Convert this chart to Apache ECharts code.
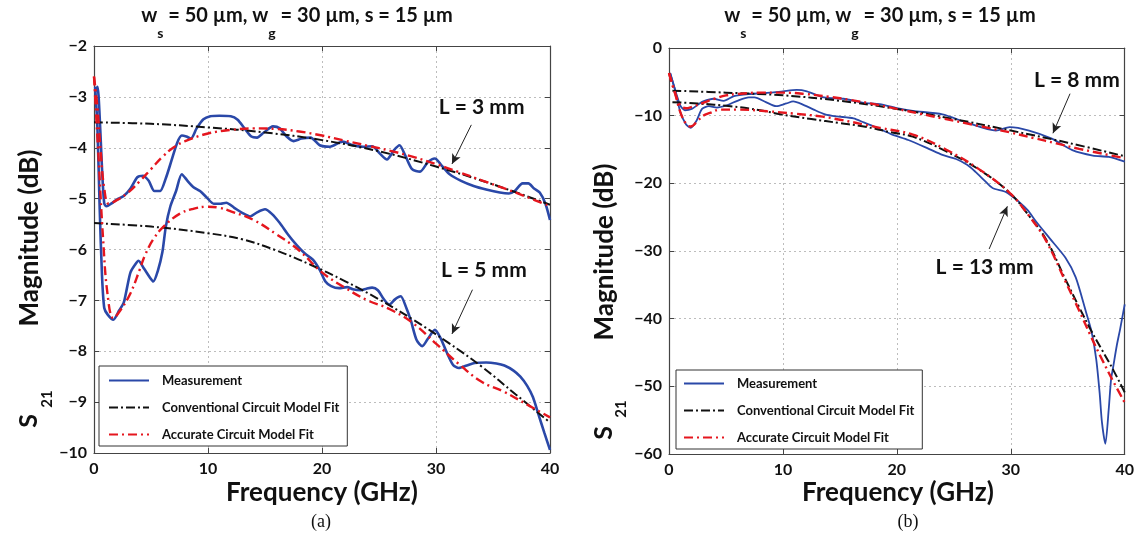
<!DOCTYPE html>
<html><head><meta charset="utf-8">
<script src="https://cdn.jsdelivr.net/npm/echarts@6/dist/echarts.min.js"></script>
<style>html,body{margin:0;padding:0;background:#fff}#c{width:1137px;height:537px}</style>
</head><body><div id="c"></div>
<script>
// ---------- axes / ticks ----------
const F_MIN = 0, F_MAX = 40, F_STEP = 10;
const A_MIN = -10, A_MAX = -2, A_STEP = 1;
const B_MIN = -60, B_MAX = 0, B_STEP = 10;
const legendNames = ['Measurement', 'Conventional Circuit Model Fit', 'Accurate Circuit Model Fit'];
const xName = 'Frequency (GHz)';
const yName = 'Magnitude (dB)';
const panelLabels = ['(a)', '(b)'];

// ---------- (a) L = 3 mm ----------
const a3Meas = [[0.1,-2.9],[0.3,-2.8],[0.5,-3.4],[0.7,-4.4],[0.9,-5.1],[1.1,-5.15],[1.5,-5.1],[2,-5.02],[2.6,-4.95],[3.2,-4.8],[3.8,-4.58],[4.3,-4.55],[4.8,-4.65],[5.3,-4.85],[5.8,-4.85],[6.3,-4.6],[6.8,-4.25],[7.3,-3.9],[7.7,-3.76],[8.1,-3.78],[8.5,-3.82],[9.0,-3.62],[9.6,-3.44],[10.2,-3.38],[11,-3.37],[12,-3.38],[12.6,-3.45],[13.2,-3.62],[13.8,-3.78],[14.3,-3.8],[14.9,-3.7],[15.7,-3.58],[16.3,-3.62],[16.9,-3.78],[17.5,-3.87],[18.2,-3.82],[19,-3.8],[19.8,-3.95],[20.7,-3.98],[21.8,-3.88],[22.7,-3.95],[23.6,-3.98],[24.4,-3.97],[25.1,-4.12],[25.7,-4.23],[26.3,-4.05],[26.8,-3.95],[27.3,-4.15],[27.9,-4.42],[28.6,-4.47],[29.3,-4.28],[29.9,-4.21],[30.5,-4.35],[31.2,-4.52],[32.2,-4.65],[33.3,-4.75],[34.4,-4.82],[35.6,-4.88],[36.4,-4.9],[36.9,-4.85],[37.6,-4.7],[38.1,-4.7],[38.6,-4.8],[39.1,-4.88],[39.6,-5.1],[40,-5.42]];
const a3Conv = [[0,-3.5],[5,-3.53],[10,-3.6],[15,-3.7],[20,-3.85],[25,-4.07],[30,-4.37],[35,-4.72],[40,-5.12]];
const a3Acc = [[0,-2.6],[0.3,-3.2],[0.6,-4.1],[0.9,-4.8],[1.3,-5.1],[2,-5.03],[3,-4.88],[4,-4.66],[5,-4.42],[6,-4.18],[7,-3.99],[8,-3.87],[10,-3.72],[12,-3.65],[14,-3.62],[16,-3.63],[18,-3.68],[20,-3.76],[22,-3.86],[24,-3.96],[26,-4.06],[28,-4.18],[30,-4.32],[32,-4.48],[34,-4.64],[36,-4.8],[38,-4.97],[40,-5.15]];

// ---------- (a) L = 5 mm ----------
const a5Meas = [[0.1,-2.8],[0.3,-3.6],[0.5,-5.2],[0.7,-6.5],[0.9,-7.15],[1.2,-7.28],[1.7,-7.38],[2.2,-7.2],[2.6,-7.05],[2.9,-6.75],[3.2,-6.45],[3.6,-6.3],[3.9,-6.22],[4.4,-6.38],[4.9,-6.55],[5.2,-6.63],[5.6,-6.42],[6.0,-6.05],[6.3,-5.55],[6.7,-5.15],[7.2,-4.85],[7.7,-4.52],[8.2,-4.65],[8.7,-4.77],[9.3,-4.85],[9.9,-4.98],[10.5,-5.1],[11.1,-5.1],[11.6,-5.08],[12.3,-5.18],[13.0,-5.28],[13.7,-5.35],[14.3,-5.27],[15,-5.21],[15.6,-5.3],[16.3,-5.48],[17,-5.7],[17.8,-5.92],[18.5,-6.08],[19.2,-6.2],[19.8,-6.4],[20.3,-6.63],[20.8,-6.72],[21.5,-6.76],[22.2,-6.74],[22.7,-6.78],[23.4,-6.8],[23.9,-6.77],[24.4,-6.75],[24.9,-6.8],[25.4,-6.97],[25.9,-7.08],[26.4,-6.98],[26.9,-6.92],[27.4,-7.15],[27.8,-7.4],[28.3,-7.78],[28.8,-7.9],[29.3,-7.75],[29.9,-7.58],[30.4,-7.74],[30.9,-8.0],[31.5,-8.27],[32.0,-8.33],[32.7,-8.28],[33.4,-8.23],[34.4,-8.22],[35.3,-8.24],[36.0,-8.28],[36.8,-8.38],[37.4,-8.5],[38.0,-8.68],[38.5,-8.9],[39.0,-9.25],[39.5,-9.6],[40,-9.94]];
const a5Conv = [[0,-5.48],[5,-5.55],[10,-5.68],[13,-5.8],[16,-6.02],[19,-6.3],[22,-6.62],[25,-6.98],[28,-7.38],[31,-7.82],[34,-8.3],[37,-8.85],[40,-9.4]];
const a5Acc = [[0,-2.6],[0.4,-4.2],[0.8,-5.8],[1.2,-6.9],[1.7,-7.35],[2.3,-7.2],[3.2,-6.86],[4.0,-6.4],[4.5,-6.1],[5.2,-5.8],[6.1,-5.55],[7.5,-5.3],[8.7,-5.2],[9.9,-5.16],[11,-5.18],[12,-5.25],[14,-5.42],[16,-5.7],[18,-6.02],[20,-6.45],[22,-6.75],[24,-7.0],[26,-7.18],[28,-7.45],[30,-7.85],[32,-8.25],[34,-8.6],[36,-8.8],[38,-9.05],[40,-9.3]];

// ---------- (b) L = 8 mm ----------
const b8Meas = [[0.1,-3.7],[0.5,-6.0],[1,-8.5],[1.4,-9.2],[2,-9.0],[2.6,-8.3],[3,-7.9],[3.9,-7.5],[4.8,-7.8],[5.7,-7.1],[7.1,-6.8],[8.9,-6.6],[10,-6.4],[11.2,-6.2],[12.1,-6.4],[13.6,-7.3],[15.3,-7.5],[17.1,-8.1],[18.5,-8.3],[20,-8.9],[21.4,-9.3],[24,-9.8],[26.1,-11.0],[28.7,-12.2],[29.9,-11.7],[31.6,-12.2],[33.6,-13.4],[35.4,-15.1],[37.2,-15.9],[38.6,-16.1],[40,-16.8]];
const b8Conv = [[0.3,-6.3],[5,-6.6],[10,-7.0],[15,-7.8],[20,-9.0],[25,-10.5],[30,-12.2],[35,-14.0],[40,-16.0]];
const b8Acc = [[0,-3.7],[0.5,-6.5],[1,-8.5],[1.5,-8.9],[2,-8.7],[3,-8.1],[4,-7.5],[5,-7.0],[6,-6.8],[8,-6.6],[10,-6.6],[12,-6.8],[14,-7.2],[16,-7.7],[18,-8.3],[20,-9.0],[22,-9.7],[24,-10.4],[26,-11.1],[28,-11.8],[30,-12.5],[32,-13.3],[34,-14.1],[36,-14.9],[38,-15.6],[40,-16.3]];

// ---------- (b) L = 13 mm ----------
const b13Meas = [[0.1,-3.7],[0.5,-6.0],[1,-9.5],[1.5,-11.3],[1.9,-11.8],[2.4,-10.8],[2.9,-9.0],[3.5,-8.6],[4.2,-8.8],[5,-8.5],[6,-7.8],[7,-7.3],[7.5,-7.3],[8.5,-8.0],[9.4,-8.6],[10.3,-8.2],[10.9,-7.9],[11.8,-8.4],[12.7,-9.1],[13.7,-9.8],[14.7,-10.1],[16.2,-10.4],[17.1,-11.0],[18,-11.6],[19.6,-12.8],[21,-13.6],[22.8,-14.9],[24,-15.8],[25.2,-16.4],[26.2,-17.3],[26.9,-18.3],[27.7,-19.6],[28.4,-20.7],[29.6,-21.3],[30.7,-22.7],[31.5,-24.0],[32.2,-25.6],[33.4,-28.1],[34.8,-31.0],[35.7,-33.9],[36.6,-39],[37.1,-42],[37.5,-46],[37.8,-51],[38.0,-55.3],[38.3,-58.5],[38.6,-53.3],[38.8,-49],[39,-47],[39.3,-44],[39.6,-41.5],[40,-37.9]];
const b13Conv = [[0.3,-8.0],[2.5,-8.2],[5.4,-8.6],[8,-9.2],[9.8,-9.8],[12.5,-10.5],[15,-11.1],[17.1,-11.6],[19.6,-12.5],[21.4,-13.1],[24.3,-15.25],[27.2,-17.95],[29.9,-21.4],[31.6,-24.8],[33.1,-28.3],[34.8,-34.2],[36,-38.3],[37,-41.6],[38,-44.6],[39,-47.6],[40,-50.9]];
const b13Acc = [[0,-3.7],[0.5,-6.5],[1,-9.5],[1.5,-11.2],[1.9,-11.6],[2.5,-10.8],[3,-10.0],[3.6,-9.6],[4.5,-9.1],[6,-9.1],[8.6,-9.35],[11,-9.7],[13.3,-10.1],[15,-10.6],[17.1,-11.3],[18.5,-11.8],[21.4,-12.8],[24.3,-15.0],[27.2,-17.9],[29.9,-21.4],[31.6,-24.8],[33.1,-28.5],[34.8,-34.5],[36,-38.8],[37,-42.5],[38,-46],[39,-49.3],[40,-52.4]];

// ---------- annotations (data coords) ----------
const notes = [
  {grid:0, text:'L = 3 mm', at:[34.0,-3.2], from:[33.1,-3.55], to:[31.4,-4.32]},
  {grid:0, text:'L = 5 mm', at:[34.2,-6.4], from:[33.2,-6.79], to:[31.4,-7.66]},
  {grid:1, text:'L = 8 mm', at:[35.8,-4.7], from:[35.2,-6.75], to:[33.7,-12.6]},
  {grid:1, text:'L = 13 mm', at:[27.7,-32.4], from:[28.1,-29.7], to:[29.7,-23.4]}
];

const FONT = 'Lato, "Open Sans", sans-serif';
const BLUE = '#2a48a8', RED = '#e5161e', BLACK = '#111';

function xAxes(gi) {
  return [
    {gridIndex: gi, type: 'value', min: F_MIN, max: F_MAX, interval: F_STEP, position: 'bottom',
     axisLine: {show: true, onZero: false, lineStyle: {color: '#444', width: 1.2}},
     axisTick: {show: true, inside: true, length: 5, lineStyle: {color: '#444'}},
     axisLabel: {color: '#111', fontFamily: FONT, fontWeight: 'bold', fontSize: 16, margin: 8},
     splitLine: {show: true, lineStyle: {color: '#bdbdbd', type: [2, 3], width: 1}}},
    {gridIndex: gi, type: 'value', min: F_MIN, max: F_MAX, interval: F_STEP, position: 'top',
     axisLine: {show: true, onZero: false, lineStyle: {color: '#444', width: 1.2}},
     axisTick: {show: true, inside: true, length: 5, lineStyle: {color: '#444'}},
     axisLabel: {show: false}, splitLine: {show: false}}
  ];
}
function yAxes(gi, mn, mx, st) {
  return [
    {gridIndex: gi, type: 'value', min: mn, max: mx, interval: st, position: 'left',
     axisLine: {show: true, onZero: false, lineStyle: {color: '#444', width: 1.2}},
     axisTick: {show: true, inside: true, length: 5, lineStyle: {color: '#444'}},
     axisLabel: {color: '#111', fontFamily: FONT, fontWeight: 'bold', fontSize: 16, margin: 7,
       formatter: v => String(v).replace('-', '\u2212')},
     splitLine: {show: true, lineStyle: {color: '#bdbdbd', type: [2, 3], width: 1}}},
    {gridIndex: gi, type: 'value', min: mn, max: mx, interval: st, position: 'right',
     axisLine: {show: true, onZero: false, lineStyle: {color: '#444', width: 1.2}},
     axisTick: {show: true, inside: true, length: 5, lineStyle: {color: '#444'}},
     axisLabel: {show: false}, splitLine: {show: false}}
  ];
}

function ser(kind, data, gi, measWidth) {
  const base = {type: 'line', data: data, xAxisIndex: gi * 2, yAxisIndex: gi * 2,
    symbol: 'none', showSymbol: false, animation: false, silent: true};
  if (kind === 0) return Object.assign(base, {name: legendNames[0], smooth: 0.25, z: 2,
    lineStyle: {color: BLUE, width: measWidth}, itemStyle: {color: BLUE}});
  if (kind === 1) return Object.assign(base, {name: legendNames[1], smooth: 0.4, z: 3,
    lineStyle: {color: BLACK, width: 2, type: [9, 3, 2, 3]}, itemStyle: {color: BLACK}});
  return Object.assign(base, {name: legendNames[2], smooth: 0.4, z: 4,
    lineStyle: {color: RED, width: 2.4, type: [9, 4, 2, 4]}, itemStyle: {color: RED}});
}

const series = [
  ser(0, a3Meas, 0, 2.6), ser(0, a5Meas, 0, 2.6),
  ser(1, a3Conv, 0), ser(1, a5Conv, 0),
  ser(2, a3Acc, 0), ser(2, a5Acc, 0),
  ser(0, b8Meas, 1, 1.8), ser(0, b13Meas, 1, 1.8),
  ser(1, b8Conv, 1), ser(1, b13Conv, 1),
  ser(2, b8Acc, 1), ser(2, b13Acc, 1)
];

// annotation carrier series (arrows + labels) in data space
notes.forEach(n => {
  series.push({type: 'line', data: [], xAxisIndex: n.grid * 2, yAxisIndex: n.grid * 2, silent: true, animation: false,
    markLine: {silent: true, animation: false, symbol: ['none', 'arrow'], symbolSize: [7, 10],
      lineStyle: {color: '#222', width: 1, type: 'solid'}, label: {show: false},
      data: [[{coord: n.from}, {coord: n.to}]]},
    markPoint: {silent: true, animation: false, symbol: 'circle', symbolSize: 0,
      data: [{coord: n.at, label: {show: true, formatter: n.text, color: '#111', fontFamily: FONT,
        fontWeight: 'bold', fontSize: 21, position: 'inside'}}]}
  });
});

function legend(left, top, pad, textW) {
  return {left: left, top: top, orient: 'vertical', data: legendNames, itemWidth: 40, itemHeight: 14, itemGap: 14,
    padding: pad, backgroundColor: '#fff', borderColor: '#333', borderWidth: 1, borderRadius: 0,
    selectedMode: false, itemStyle: {opacity: 0},
    textStyle: {fontFamily: FONT, fontWeight: 'bold', fontSize: 13, color: '#111', width: textW, padding: [0, 0, 0, 8]}};
}

const titleText = '{m|w}{s|s}{m| = 50 \u00b5m, w}{s|g}{m| = 30 \u00b5m, s = 15 \u00b5m}';
const titleRich = {
  m: {fontFamily: FONT, fontWeight: 'bold', fontSize: 20, lineHeight: 22, verticalAlign: 'top', fill: '#111'},
  s: {fontFamily: FONT, fontWeight: 'bold', fontSize: 14, lineHeight: 34, verticalAlign: 'bottom', fill: '#111'}
};
function title(x) {
  return {type: 'text', x: x, y: 23, silent: true,
    style: {text: titleText, rich: titleRich, align: 'center', verticalAlign: 'middle', fill: '#111'}};
}
function txt(t, x, y, size, rot, family) {
  return {type: 'text', x: x, y: y, rotation: rot || 0, silent: true,
    style: {text: t, font: 'bold ' + size + 'px ' + (family || FONT), fill: '#111', align: 'center', verticalAlign: 'middle'}};
}

const option = {
  backgroundColor: '#fff',
  animation: false,
  grid: [
    {left: 94, top: 46, width: 456, height: 407, show: false},
    {left: 669, top: 48, width: 457, height: 406, show: false}
  ],
  xAxis: [...xAxes(0), ...xAxes(1)],
  yAxis: [...yAxes(0, A_MIN, A_MAX, A_STEP), ...yAxes(1, B_MIN, B_MAX, B_STEP)],
  legend: [legend(99, 366, [8, 8, 5, 9], 221), legend(676, 370, [7, 8, 5, 7], 302)],
  series: series,
  graphic: [
    title(297), title(880),
    txt(yName, 30, 238, 26, Math.PI / 2), txt('S', 29, 421, 25, Math.PI / 2), txt('21', 47, 399, 15, Math.PI / 2),
    txt(yName, 605, 252, 26, Math.PI / 2), txt('S', 604, 433, 25, Math.PI / 2), txt('21', 621, 409, 15, Math.PI / 2),
    txt(xName, 322, 493, 26), txt(xName, 898, 493, 26),
    {type: 'text', x: 321, y: 522, silent: true, style: {text: panelLabels[0], font: '18px "Liberation Serif", serif', fill: '#111', align: 'center', verticalAlign: 'middle'}},
    {type: 'text', x: 908, y: 522, silent: true, style: {text: panelLabels[1], font: '18px "Liberation Serif", serif', fill: '#111', align: 'center', verticalAlign: 'middle'}}
  ]
};

const chart = echarts.init(document.getElementById('c'), null, {renderer: 'canvas'});
chart.setOption(option);
</script>
</body></html>
